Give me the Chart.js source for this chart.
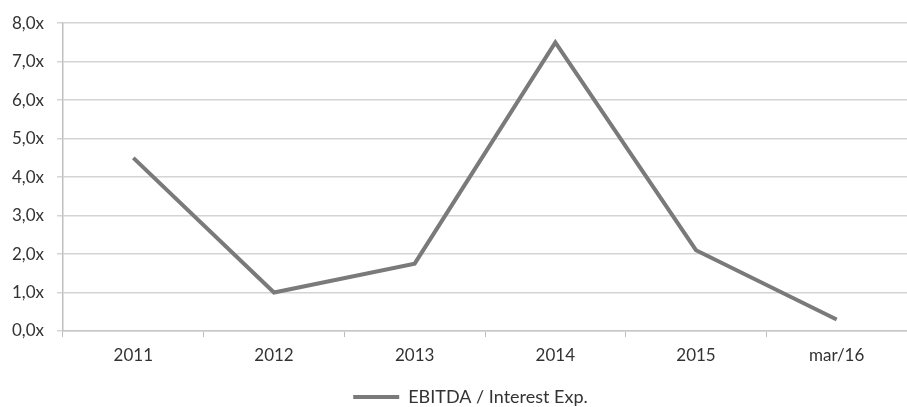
<!DOCTYPE html>
<html>
<head>
<meta charset="utf-8">
<script src="https://cdn.jsdelivr.net/npm/chart.js@4/dist/chart.umd.min.js"></script>
<style>
  html, body { margin: 0; padding: 0; background: #ffffff; }
  #wrap { width: 907px; height: 407px; position: relative; }
</style>
</head>
<body>
<div id="wrap"><canvas id="c"></canvas></div>
<script>
// Coverage ratio by period
const periods = ['2011', '2012', '2013', '2014', '2015', 'mar/16'];
const coverage = [4.5, 1.0, 1.75, 7.5, 2.1, 0.3];
const seriesName = 'EBITDA / Interest Exp.';
const yTicks = { min: 0, max: 8, step: 1 };

const fmt = v => v.toFixed(1).replace('.', ',') + 'x';
const FONT = 'Lato, "Open Sans", sans-serif';

// Nudge the legend a little to the right of the canvas centre
const legendShift = {
  id: 'legendShift',
  afterLayout(chart) {
    const lg = chart.legend;
    if (lg) { lg.left += 17; lg.right += 17; }
  }
};

new Chart(document.getElementById('c'), {
  type: 'line',
  data: {
    labels: periods,
    datasets: [{
      label: seriesName,
      data: coverage,
      borderColor: '#7a7a7a',
      backgroundColor: '#7a7a7a',
      borderWidth: 4,
      pointRadius: 0,
      pointHoverRadius: 0,
      tension: 0,
      pointStyle: 'line'
    }]
  },
  plugins: [legendShift],
  options: {
    responsive: true,
    maintainAspectRatio: false,
    animation: false,
    layout: { padding: { top: 20, right: 0, left: 0, bottom: -9 } },
    plugins: {
      tooltip: { enabled: false },
      legend: {
        position: 'bottom',
        labels: {
          usePointStyle: true,
          pointStyleWidth: 46,
          boxHeight: 4,
          color: '#333333',
          font: { family: FONT, size: 18 },
          padding: 0
        }
      }
    },
    scales: {
      x: {
        offset: true,
        grid: {
          offset: true,
          drawOnChartArea: false,
          drawTicks: true,
          tickLength: 6,
          color: '#bdbdbd',
          lineWidth: 1
        },
        border: { color: '#c8c8c8', width: 1.5 },
        ticks: {
          color: '#333333',
          font: { family: FONT, size: 17 },
          padding: 8,
          maxRotation: 0
        },
        afterFit: s => { s.height = 57; }
      },
      y: {
        min: yTicks.min,
        max: yTicks.max,
        grid: {
          color: '#d4d4d4',
          lineWidth: 1.5,
          drawTicks: true,
          tickLength: 6
        },
        border: { color: '#c0c0c0', width: 1.5 },
        ticks: {
          stepSize: yTicks.step,
          color: '#333333',
          font: { family: FONT, size: 17 },
          padding: 13,
          callback: v => fmt(v)
        },
        afterFit: s => { s.width = 63; }
      }
    }
  }
});
</script>
</body>
</html>
